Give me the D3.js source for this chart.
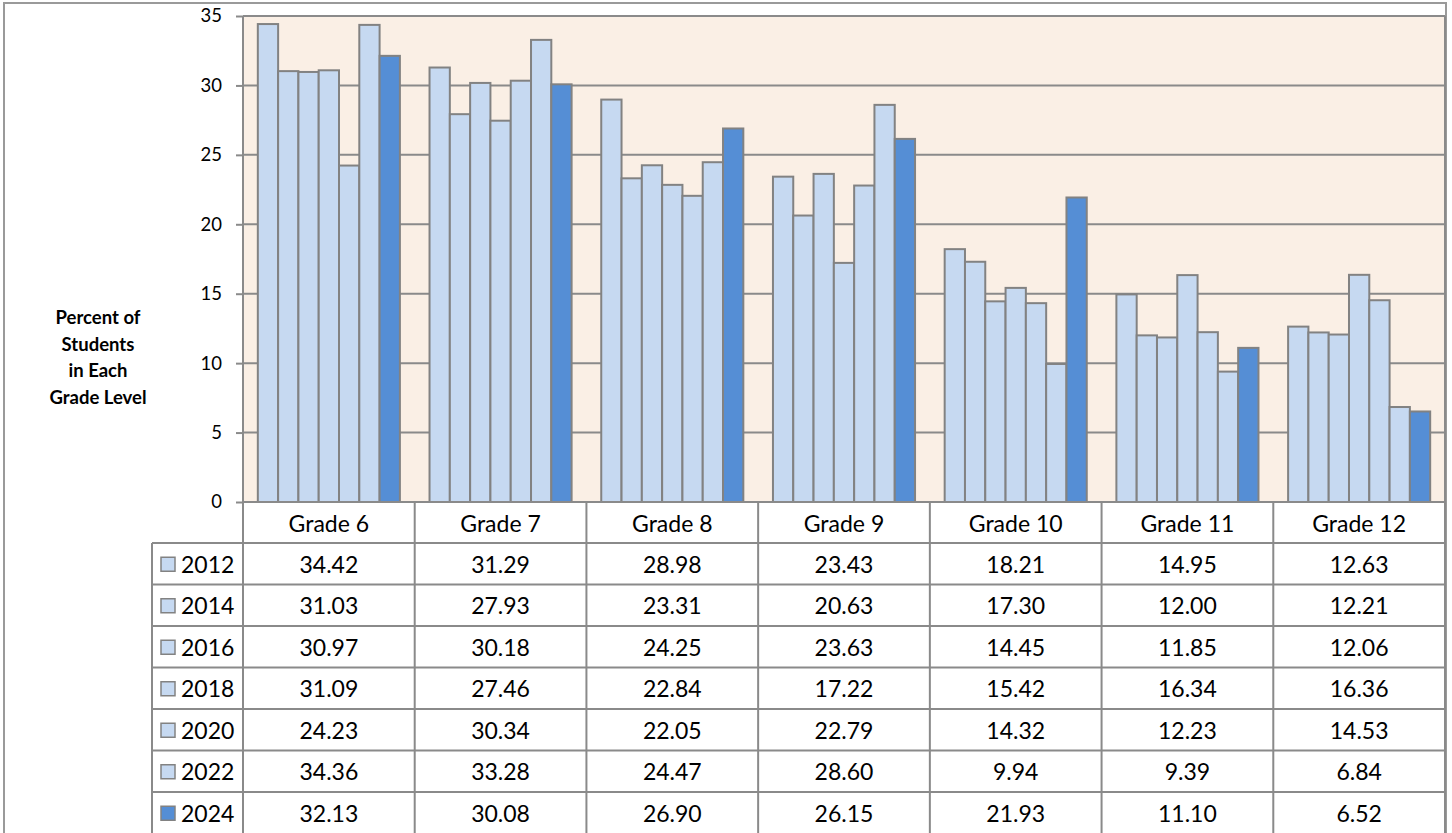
<!DOCTYPE html>
<html>
<head>
<meta charset="utf-8">
<script src="https://cdn.jsdelivr.net/npm/d3@7"></script>
<style>
  html, body { margin: 0; padding: 0; background: #ffffff; }
  svg { display: block; font-family: Lato, "Open Sans", sans-serif; }
</style>
</head>
<body>
<svg id="chart" width="1452" height="833"></svg>
<script>
// Share of students in each grade level, by survey year
const grades = ["Grade 6", "Grade 7", "Grade 8", "Grade 9", "Grade 10", "Grade 11", "Grade 12"];
const years = ["2012", "2014", "2016", "2018", "2020", "2022", "2024"];
const values2012 = [34.42, 31.29, 28.98, 23.43, 18.21, 14.95, 12.63];
const values2014 = [31.03, 27.93, 23.31, 20.63, 17.30, 12.00, 12.21];
const values2016 = [30.97, 30.18, 24.25, 23.63, 14.45, 11.85, 12.06];
const values2018 = [31.09, 27.46, 22.84, 17.22, 15.42, 16.34, 16.36];
const values2020 = [24.23, 30.34, 22.05, 22.79, 14.32, 12.23, 14.53];
const values2022 = [34.36, 33.28, 24.47, 28.60, 9.94, 9.39, 6.84];
const values2024 = [32.13, 30.08, 26.90, 26.15, 21.93, 11.10, 6.52];
const yTicks = [0, 5, 10, 15, 20, 25, 30, 35];
const axisTitle = ["Percent of", "Students", "in Each", "Grade Level"];

const series = [values2012, values2014, values2016, values2018, values2020, values2022, values2024];
const seriesColor = ["#c6d9f1", "#c6d9f1", "#c6d9f1", "#c6d9f1", "#c6d9f1", "#c6d9f1", "#558ed5"];

const svg = d3.select("#chart");
const lineColor = "#8a8a8a";

// layout
const plotLeft = 243, plotRight = 1445, plotTop = 16, plotBottom = 502;
const tableLeft = 152, tableTop = 543, rowH = 41.5;

// outer frame of the chart
svg.append("rect")
  .attr("x", 4).attr("y", 3)
  .attr("width", 1442).attr("height", 840)
  .attr("fill", "#ffffff")
  .attr("stroke", "#9a9a9a").attr("stroke-width", 2);

const x0 = d3.scaleBand().domain(grades).range([plotLeft, plotRight]).padding(0);
const x1 = d3.scaleBand().domain(years).range([0, x0.bandwidth()]).paddingInner(0).paddingOuter(0.73);
const y = d3.scaleLinear().domain([0, 35]).range([plotBottom, plotTop]);

// plot background
svg.append("rect")
  .attr("x", plotLeft).attr("y", plotTop)
  .attr("width", plotRight - plotLeft).attr("height", plotBottom - plotTop)
  .attr("fill", "#faefe5");

// horizontal gridlines
svg.append("g").selectAll("line")
  .data(yTicks.filter(t => t > 0 && t < 35))
  .join("line")
  .attr("x1", plotLeft).attr("x2", plotRight)
  .attr("y1", d => y(d)).attr("y2", d => y(d))
  .attr("stroke", lineColor).attr("stroke-width", 2);

// bars
const barData = [];
series.forEach((vals, si) => {
  vals.forEach((v, gi) => barData.push({ grade: grades[gi], year: years[si], value: v, color: seriesColor[si] }));
});
svg.append("g").selectAll("rect")
  .data(barData)
  .join("rect")
  .attr("x", d => x0(d.grade) + x1(d.year))
  .attr("y", d => y(d.value))
  .attr("width", x1.bandwidth())
  .attr("height", d => y(0) - y(d.value))
  .attr("fill", d => d.color)
  .attr("stroke", "#828282").attr("stroke-width", 2);

// plot frame: top, right, baseline
svg.append("line").attr("x1", plotLeft).attr("x2", plotRight).attr("y1", plotTop).attr("y2", plotTop)
  .attr("stroke", lineColor).attr("stroke-width", 2);
svg.append("line").attr("x1", plotRight).attr("x2", plotRight).attr("y1", plotTop).attr("y2", 833)
  .attr("stroke", lineColor).attr("stroke-width", 2);
svg.append("line").attr("x1", plotLeft).attr("x2", plotRight).attr("y1", plotBottom).attr("y2", plotBottom)
  .attr("stroke", lineColor).attr("stroke-width", 2);

// value axis
const yAxis = d3.axisLeft(y).tickValues(yTicks).tickSize(7).tickPadding(14).tickFormat(d3.format("d"));
const yAxisG = svg.append("g").attr("transform", `translate(${plotLeft},0)`).call(yAxis);
yAxisG.select(".domain").attr("stroke", lineColor).attr("stroke-width", 2)
  .attr("d", `M0,${plotTop}V833`);
yAxisG.selectAll(".tick line").attr("stroke", lineColor).attr("stroke-width", 2);
yAxisG.selectAll(".tick text")
  .attr("font-family", "Lato, sans-serif").attr("font-size", 18.5).attr("fill", "#000");

// value axis title
svg.append("text")
  .attr("x", 98).attr("y", 318)
  .attr("text-anchor", "middle")
  .attr("font-weight", "bold").attr("font-size", 18.5).attr("fill", "#000")
  .selectAll("tspan")
  .data(axisTitle)
  .join("tspan")
  .attr("x", 98)
  .attr("dy", (d, i) => i === 0 ? "0.35em" : 26.5)
  .text(d => d);

// category axis row
const catG = svg.append("g");
catG.selectAll("line")
  .data(grades.slice(1))
  .join("line")
  .attr("x1", d => x0(d)).attr("x2", d => x0(d))
  .attr("y1", plotBottom).attr("y2", 833)
  .attr("stroke", lineColor).attr("stroke-width", 2);
catG.selectAll("text")
  .data(grades)
  .join("text")
  .attr("x", d => x0(d) + x0.bandwidth() / 2)
  .attr("y", (plotBottom + tableTop) / 2 + 1)
  .attr("dy", "0.35em")
  .attr("text-anchor", "middle")
  .attr("font-size", 23).attr("fill", "#000")
  .text(d => d);

// data table
const tableG = svg.append("g");
tableG.append("line").attr("x1", tableLeft).attr("x2", tableLeft).attr("y1", tableTop).attr("y2", 833)
  .attr("stroke", lineColor).attr("stroke-width", 2);
tableG.selectAll("line.row")
  .data(d3.range(years.length))
  .join("line")
  .attr("class", "row")
  .attr("x1", tableLeft).attr("x2", plotRight)
  .attr("y1", i => tableTop + i * rowH).attr("y2", i => tableTop + i * rowH)
  .attr("stroke", lineColor).attr("stroke-width", 2);

const rows = tableG.selectAll("g.trow")
  .data(years)
  .join("g")
  .attr("class", "trow")
  .attr("transform", (d, i) => `translate(0,${tableTop + i * rowH + rowH / 2})`);

rows.append("rect")
  .attr("x", 161).attr("y", -6.5)
  .attr("width", 14).attr("height", 14)
  .attr("fill", (d, i) => seriesColor[i])
  .attr("stroke", "#828282").attr("stroke-width", 1.5);
rows.append("text")
  .attr("x", 181).attr("y", 1)
  .attr("dy", "0.35em")
  .attr("font-size", 23).attr("fill", "#000")
  .text(d => d);

rows.selectAll("text.val")
  .data((d, i) => series[i].map((v, gi) => ({ grade: grades[gi], value: v })))
  .join("text")
  .attr("class", "val")
  .attr("x", d => x0(d.grade) + x0.bandwidth() / 2)
  .attr("y", 1)
  .attr("dy", "0.35em")
  .attr("text-anchor", "middle")
  .attr("font-size", 23).attr("fill", "#000")
  .text(d => d3.format(".2f")(d.value));
</script>
</body>
</html>
